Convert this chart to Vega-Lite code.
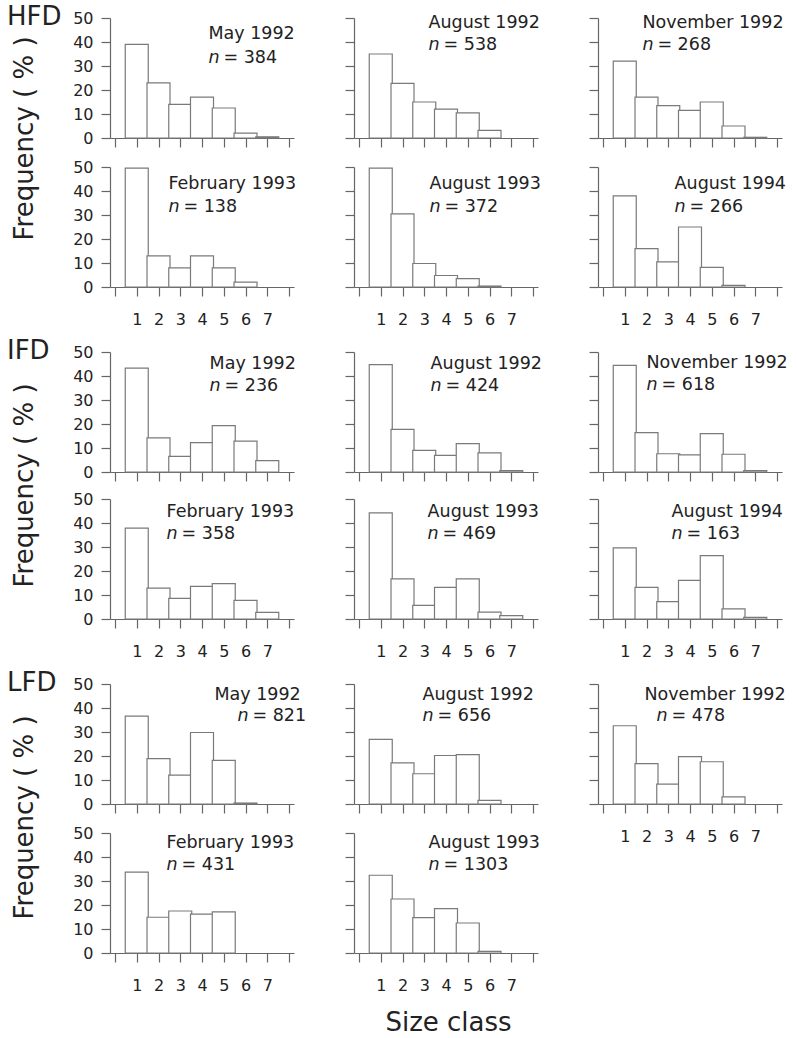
{
"$schema":"https://vega.github.io/schema/vega-lite/v6.json",
"background":"white",
"padding":{"left":7,"top":4,"right":5,"bottom":0},
"datasets":{
"freq":[
{"g":"HFD","p":"May 1992","c":1,"v":39},{"g":"HFD","p":"May 1992","c":2,"v":23},{"g":"HFD","p":"May 1992","c":3,"v":14},{"g":"HFD","p":"May 1992","c":4,"v":17},{"g":"HFD","p":"May 1992","c":5,"v":12.5},{"g":"HFD","p":"May 1992","c":6,"v":2},{"g":"HFD","p":"May 1992","c":7,"v":0.5},
{"g":"HFD","p":"August 1992","c":1,"v":35},{"g":"HFD","p":"August 1992","c":2,"v":22.8},{"g":"HFD","p":"August 1992","c":3,"v":15},{"g":"HFD","p":"August 1992","c":4,"v":12},{"g":"HFD","p":"August 1992","c":5,"v":10.5},{"g":"HFD","p":"August 1992","c":6,"v":3.2},
{"g":"HFD","p":"November 1992","c":1,"v":32},{"g":"HFD","p":"November 1992","c":2,"v":17},{"g":"HFD","p":"November 1992","c":3,"v":13.5},{"g":"HFD","p":"November 1992","c":4,"v":11.5},{"g":"HFD","p":"November 1992","c":5,"v":15},{"g":"HFD","p":"November 1992","c":6,"v":5},{"g":"HFD","p":"November 1992","c":7,"v":0.3},
{"g":"HFD","p":"February 1993","c":1,"v":49.5},{"g":"HFD","p":"February 1993","c":2,"v":13},{"g":"HFD","p":"February 1993","c":3,"v":8},{"g":"HFD","p":"February 1993","c":4,"v":13},{"g":"HFD","p":"February 1993","c":5,"v":8},{"g":"HFD","p":"February 1993","c":6,"v":2},
{"g":"HFD","p":"August 1993","c":1,"v":49.5},{"g":"HFD","p":"August 1993","c":2,"v":30.5},{"g":"HFD","p":"August 1993","c":3,"v":9.8},{"g":"HFD","p":"August 1993","c":4,"v":4.8},{"g":"HFD","p":"August 1993","c":5,"v":3.5},{"g":"HFD","p":"August 1993","c":6,"v":0.4},
{"g":"HFD","p":"August 1994","c":1,"v":38},{"g":"HFD","p":"August 1994","c":2,"v":16},{"g":"HFD","p":"August 1994","c":3,"v":10.5},{"g":"HFD","p":"August 1994","c":4,"v":25},{"g":"HFD","p":"August 1994","c":5,"v":8.2},{"g":"HFD","p":"August 1994","c":6,"v":0.7},
{"g":"IFD","p":"May 1992","c":1,"v":43.3},{"g":"IFD","p":"May 1992","c":2,"v":14.2},{"g":"IFD","p":"May 1992","c":3,"v":6.5},{"g":"IFD","p":"May 1992","c":4,"v":12.2},{"g":"IFD","p":"May 1992","c":5,"v":19.3},{"g":"IFD","p":"May 1992","c":6,"v":12.9},{"g":"IFD","p":"May 1992","c":7,"v":4.7},
{"g":"IFD","p":"August 1992","c":1,"v":44.7},{"g":"IFD","p":"August 1992","c":2,"v":17.8},{"g":"IFD","p":"August 1992","c":3,"v":9},{"g":"IFD","p":"August 1992","c":4,"v":6.9},{"g":"IFD","p":"August 1992","c":5,"v":11.8},{"g":"IFD","p":"August 1992","c":6,"v":8},{"g":"IFD","p":"August 1992","c":7,"v":0.6},
{"g":"IFD","p":"November 1992","c":1,"v":44.4},{"g":"IFD","p":"November 1992","c":2,"v":16.4},{"g":"IFD","p":"November 1992","c":3,"v":7.6},{"g":"IFD","p":"November 1992","c":4,"v":7.1},{"g":"IFD","p":"November 1992","c":5,"v":16},{"g":"IFD","p":"November 1992","c":6,"v":7.4},{"g":"IFD","p":"November 1992","c":7,"v":0.6},
{"g":"IFD","p":"February 1993","c":1,"v":37.9},{"g":"IFD","p":"February 1993","c":2,"v":12.9},{"g":"IFD","p":"February 1993","c":3,"v":8.6},{"g":"IFD","p":"February 1993","c":4,"v":13.6},{"g":"IFD","p":"February 1993","c":5,"v":14.7},{"g":"IFD","p":"February 1993","c":6,"v":7.8},{"g":"IFD","p":"February 1993","c":7,"v":2.8},
{"g":"IFD","p":"August 1993","c":1,"v":44.2},{"g":"IFD","p":"August 1993","c":2,"v":16.7},{"g":"IFD","p":"August 1993","c":3,"v":5.7},{"g":"IFD","p":"August 1993","c":4,"v":13.2},{"g":"IFD","p":"August 1993","c":5,"v":16.7},{"g":"IFD","p":"August 1993","c":6,"v":2.9},{"g":"IFD","p":"August 1993","c":7,"v":1.4},
{"g":"IFD","p":"August 1994","c":1,"v":29.6},{"g":"IFD","p":"August 1994","c":2,"v":13.2},{"g":"IFD","p":"August 1994","c":3,"v":7.2},{"g":"IFD","p":"August 1994","c":4,"v":16.1},{"g":"IFD","p":"August 1994","c":5,"v":26.4},{"g":"IFD","p":"August 1994","c":6,"v":4.2},{"g":"IFD","p":"August 1994","c":7,"v":0.7},
{"g":"LFD","p":"May 1992","c":1,"v":36.6},{"g":"LFD","p":"May 1992","c":2,"v":18.9},{"g":"LFD","p":"May 1992","c":3,"v":12},{"g":"LFD","p":"May 1992","c":4,"v":29.8},{"g":"LFD","p":"May 1992","c":5,"v":18.2},{"g":"LFD","p":"May 1992","c":6,"v":0.4},
{"g":"LFD","p":"August 1992","c":1,"v":26.9},{"g":"LFD","p":"August 1992","c":2,"v":17.1},{"g":"LFD","p":"August 1992","c":3,"v":12.6},{"g":"LFD","p":"August 1992","c":4,"v":20.2},{"g":"LFD","p":"August 1992","c":5,"v":20.6},{"g":"LFD","p":"August 1992","c":6,"v":1.5},
{"g":"LFD","p":"November 1992","c":1,"v":32.6},{"g":"LFD","p":"November 1992","c":2,"v":16.8},{"g":"LFD","p":"November 1992","c":3,"v":8.3},{"g":"LFD","p":"November 1992","c":4,"v":19.7},{"g":"LFD","p":"November 1992","c":5,"v":17.6},{"g":"LFD","p":"November 1992","c":6,"v":3},
{"g":"LFD","p":"February 1993","c":1,"v":33.7},{"g":"LFD","p":"February 1993","c":2,"v":14.9},{"g":"LFD","p":"February 1993","c":3,"v":17.5},{"g":"LFD","p":"February 1993","c":4,"v":16.2},{"g":"LFD","p":"February 1993","c":5,"v":17.1},
{"g":"LFD","p":"August 1993","c":1,"v":32.4},{"g":"LFD","p":"August 1993","c":2,"v":22.5},{"g":"LFD","p":"August 1993","c":3,"v":14.7},{"g":"LFD","p":"August 1993","c":4,"v":18.5},{"g":"LFD","p":"August 1993","c":5,"v":12.5},{"g":"LFD","p":"August 1993","c":6,"v":0.7}
],
"ann":[
{"g":"HFD","p":"May 1992","n":"= 384"},{"g":"HFD","p":"August 1992","n":"= 538"},{"g":"HFD","p":"November 1992","n":"= 268"},
{"g":"HFD","p":"February 1993","n":"= 138"},{"g":"HFD","p":"August 1993","n":"= 372"},{"g":"HFD","p":"August 1994","n":"= 266"},
{"g":"IFD","p":"May 1992","n":"= 236"},{"g":"IFD","p":"August 1992","n":"= 424"},{"g":"IFD","p":"November 1992","n":"= 618"},
{"g":"IFD","p":"February 1993","n":"= 358"},{"g":"IFD","p":"August 1993","n":"= 469"},{"g":"IFD","p":"August 1994","n":"= 163"},
{"g":"LFD","p":"May 1992","n":"= 821"},{"g":"LFD","p":"August 1992","n":"= 656"},{"g":"LFD","p":"November 1992","n":"= 478"},
{"g":"LFD","p":"February 1993","n":"= 431"},{"g":"LFD","p":"August 1993","n":"= 1303"}
]
},
"config":{
"font":"DejaVu Sans",
"view":{"stroke":null},
"axis":{"grid":false,"domainColor":"#666","tickColor":"#666","domainWidth":1.2,"tickWidth":1.2,"tickSize":9,"labelColor":"#222","labelFont":"DejaVu Sans","labelFontSize":16,"labelFlush":false,"labelOverlap":false,"titleFont":"DejaVu Sans","titleFontSize":26,"titleFontWeight":"normal","titleColor":"#222"},
"axisX":{"labelPadding":15},
"axisY":{"labelPadding":8},
"text":{"font":"DejaVu Sans","fontSize":17.5,"color":"#222","align":"left","baseline":"alphabetic"},
"bar":{"fill":"white","stroke":"#7a7a7a","strokeWidth":1.2}
},
"vconcat":[
{"columns":3,"bounds":"flush","spacing":{"row":29,"column":60},"concat":[
{"width":184,"height":120,"resolve":{"scale":{"x":"independent","y":"independent"}},"layer":[
{"data":{"name":"freq"},"transform":[{"filter":"datum.g=='HFD'&&datum.p=='May 1992'"}],"mark":{"type":"bar","orient":"vertical","width":23},
"encoding":{"x":{"field":"c","type":"quantitative","scale":{"domain":[0,8],"nice":false,"zero":false},"axis":{"values":[0,1,2,3,4,5,6,7,8],"title":null,"labels":false}},
"y":{"field":"v","type":"quantitative","scale":{"domain":[0,50],"nice":false},"axis":{"values":[0,10,20,30,40,50],"title":"Frequency ( % )","titleX":-78,"titleY":120,"titleAngle":270,"titleAlign":"center","titleBaseline":"alphabetic"}}}},
{"data":{"name":"ann"},"transform":[{"filter":"datum.g=='HFD'&&datum.p=='May 1992'"}],"layer":[
{"mark":{"type":"text"},"encoding":{"x":{"datum":4.28,"type":"quantitative","scale":{"domain":[0,8],"nice":false},"axis":null},"y":{"datum":41.25,"type":"quantitative","scale":{"domain":[0,50],"nice":false},"axis":null},"text":{"field":"p"}}},
{"mark":{"type":"text","fontStyle":"italic"},"encoding":{"x":{"datum":4.28,"type":"quantitative","axis":null},"y":{"datum":31.25,"type":"quantitative","axis":null},"text":{"value":"n"}}},
{"mark":{"type":"text","dx":15},"encoding":{"x":{"datum":4.28,"type":"quantitative","axis":null},"y":{"datum":31.25,"type":"quantitative","axis":null},"text":{"field":"n"}}},
{"mark":{"type":"text","fontSize":26,"dx":-103},"encoding":{"x":{"datum":0,"type":"quantitative","axis":null},"y":{"datum":47,"type":"quantitative","axis":null},"text":{"field":"g"}}}]}
]},
{"width":184,"height":120,"resolve":{"scale":{"x":"independent","y":"independent"}},"layer":[
{"data":{"name":"freq"},"transform":[{"filter":"datum.g=='HFD'&&datum.p=='August 1992'"}],"mark":{"type":"bar","orient":"vertical","width":23},
"encoding":{"x":{"field":"c","type":"quantitative","scale":{"domain":[0,8],"nice":false,"zero":false},"axis":{"values":[0,1,2,3,4,5,6,7,8],"title":null,"labels":false}},
"y":{"field":"v","type":"quantitative","scale":{"domain":[0,50],"nice":false},"axis":{"values":[0,10,20,30,40,50],"title":null,"labels":false}}}},
{"data":{"name":"ann"},"transform":[{"filter":"datum.g=='HFD'&&datum.p=='August 1992'"}],"layer":[
{"mark":{"type":"text"},"encoding":{"x":{"datum":3.24,"type":"quantitative","scale":{"domain":[0,8],"nice":false},"axis":null},"y":{"datum":45.8,"type":"quantitative","scale":{"domain":[0,50],"nice":false},"axis":null},"text":{"field":"p"}}},
{"mark":{"type":"text","fontStyle":"italic"},"encoding":{"x":{"datum":3.24,"type":"quantitative","axis":null},"y":{"datum":36.7,"type":"quantitative","axis":null},"text":{"value":"n"}}},
{"mark":{"type":"text","dx":15},"encoding":{"x":{"datum":3.24,"type":"quantitative","axis":null},"y":{"datum":36.7,"type":"quantitative","axis":null},"text":{"field":"n"}}}]}
]},
{"width":184,"height":120,"resolve":{"scale":{"x":"independent","y":"independent"}},"layer":[
{"data":{"name":"freq"},"transform":[{"filter":"datum.g=='HFD'&&datum.p=='November 1992'"}],"mark":{"type":"bar","orient":"vertical","width":23},
"encoding":{"x":{"field":"c","type":"quantitative","scale":{"domain":[0,8],"nice":false,"zero":false},"axis":{"values":[0,1,2,3,4,5,6,7,8],"title":null,"labels":false}},
"y":{"field":"v","type":"quantitative","scale":{"domain":[0,50],"nice":false},"axis":{"values":[0,10,20,30,40,50],"title":null,"labels":false}}}},
{"data":{"name":"ann"},"transform":[{"filter":"datum.g=='HFD'&&datum.p=='November 1992'"}],"layer":[
{"mark":{"type":"text"},"encoding":{"x":{"datum":1.93,"type":"quantitative","scale":{"domain":[0,8],"nice":false},"axis":null},"y":{"datum":45.8,"type":"quantitative","scale":{"domain":[0,50],"nice":false},"axis":null},"text":{"field":"p"}}},
{"mark":{"type":"text","fontStyle":"italic"},"encoding":{"x":{"datum":1.93,"type":"quantitative","axis":null},"y":{"datum":36.7,"type":"quantitative","axis":null},"text":{"value":"n"}}},
{"mark":{"type":"text","dx":15},"encoding":{"x":{"datum":1.93,"type":"quantitative","axis":null},"y":{"datum":36.7,"type":"quantitative","axis":null},"text":{"field":"n"}}}]}
]},
{"width":184,"height":120,"resolve":{"scale":{"x":"independent","y":"independent"}},"layer":[
{"data":{"name":"freq"},"transform":[{"filter":"datum.g=='HFD'&&datum.p=='February 1993'"}],"mark":{"type":"bar","orient":"vertical","width":23},
"encoding":{"x":{"field":"c","type":"quantitative","scale":{"domain":[0,8],"nice":false,"zero":false},"axis":{"values":[0,1,2,3,4,5,6,7,8],"title":null,"labelExpr":"datum.value>=1&&datum.value<=7?datum.label:''"}},
"y":{"field":"v","type":"quantitative","scale":{"domain":[0,50],"nice":false},"axis":{"values":[0,10,20,30,40,50],"title":null}}}},
{"data":{"name":"ann"},"transform":[{"filter":"datum.g=='HFD'&&datum.p=='February 1993'"}],"layer":[
{"mark":{"type":"text"},"encoding":{"x":{"datum":2.54,"type":"quantitative","scale":{"domain":[0,8],"nice":false},"axis":null},"y":{"datum":40.8,"type":"quantitative","scale":{"domain":[0,50],"nice":false},"axis":null},"text":{"field":"p"}}},
{"mark":{"type":"text","fontStyle":"italic"},"encoding":{"x":{"datum":2.54,"type":"quantitative","axis":null},"y":{"datum":31.25,"type":"quantitative","axis":null},"text":{"value":"n"}}},
{"mark":{"type":"text","dx":15},"encoding":{"x":{"datum":2.54,"type":"quantitative","axis":null},"y":{"datum":31.25,"type":"quantitative","axis":null},"text":{"field":"n"}}}]}
]},
{"width":184,"height":120,"resolve":{"scale":{"x":"independent","y":"independent"}},"layer":[
{"data":{"name":"freq"},"transform":[{"filter":"datum.g=='HFD'&&datum.p=='August 1993'"}],"mark":{"type":"bar","orient":"vertical","width":23},
"encoding":{"x":{"field":"c","type":"quantitative","scale":{"domain":[0,8],"nice":false,"zero":false},"axis":{"values":[0,1,2,3,4,5,6,7,8],"title":null,"labelExpr":"datum.value>=1&&datum.value<=7?datum.label:''"}},
"y":{"field":"v","type":"quantitative","scale":{"domain":[0,50],"nice":false},"axis":{"values":[0,10,20,30,40,50],"title":null,"labels":false}}}},
{"data":{"name":"ann"},"transform":[{"filter":"datum.g=='HFD'&&datum.p=='August 1993'"}],"layer":[
{"mark":{"type":"text"},"encoding":{"x":{"datum":3.28,"type":"quantitative","scale":{"domain":[0,8],"nice":false},"axis":null},"y":{"datum":41.0,"type":"quantitative","scale":{"domain":[0,50],"nice":false},"axis":null},"text":{"field":"p"}}},
{"mark":{"type":"text","fontStyle":"italic"},"encoding":{"x":{"datum":3.28,"type":"quantitative","axis":null},"y":{"datum":31.4,"type":"quantitative","axis":null},"text":{"value":"n"}}},
{"mark":{"type":"text","dx":15},"encoding":{"x":{"datum":3.28,"type":"quantitative","axis":null},"y":{"datum":31.4,"type":"quantitative","axis":null},"text":{"field":"n"}}}]}
]},
{"width":184,"height":120,"resolve":{"scale":{"x":"independent","y":"independent"}},"layer":[
{"data":{"name":"freq"},"transform":[{"filter":"datum.g=='HFD'&&datum.p=='August 1994'"}],"mark":{"type":"bar","orient":"vertical","width":23},
"encoding":{"x":{"field":"c","type":"quantitative","scale":{"domain":[0,8],"nice":false,"zero":false},"axis":{"values":[0,1,2,3,4,5,6,7,8],"title":null,"labelExpr":"datum.value>=1&&datum.value<=7?datum.label:''"}},
"y":{"field":"v","type":"quantitative","scale":{"domain":[0,50],"nice":false},"axis":{"values":[0,10,20,30,40,50],"title":null,"labels":false}}}},
{"data":{"name":"ann"},"transform":[{"filter":"datum.g=='HFD'&&datum.p=='August 1994'"}],"layer":[
{"mark":{"type":"text"},"encoding":{"x":{"datum":3.33,"type":"quantitative","scale":{"domain":[0,8],"nice":false},"axis":null},"y":{"datum":41.0,"type":"quantitative","scale":{"domain":[0,50],"nice":false},"axis":null},"text":{"field":"p"}}},
{"mark":{"type":"text","fontStyle":"italic"},"encoding":{"x":{"datum":3.33,"type":"quantitative","axis":null},"y":{"datum":31.4,"type":"quantitative","axis":null},"text":{"value":"n"}}},
{"mark":{"type":"text","dx":15},"encoding":{"x":{"datum":3.33,"type":"quantitative","axis":null},"y":{"datum":31.4,"type":"quantitative","axis":null},"text":{"field":"n"}}}]}
]}
]},
{"columns":3,"bounds":"flush","spacing":{"row":27,"column":60},"concat":[
{"width":184,"height":120,"resolve":{"scale":{"x":"independent","y":"independent"}},"layer":[
{"data":{"name":"freq"},"transform":[{"filter":"datum.g=='IFD'&&datum.p=='May 1992'"}],"mark":{"type":"bar","orient":"vertical","width":23},
"encoding":{"x":{"field":"c","type":"quantitative","scale":{"domain":[0,8],"nice":false,"zero":false},"axis":{"values":[0,1,2,3,4,5,6,7,8],"title":null,"labels":false}},
"y":{"field":"v","type":"quantitative","scale":{"domain":[0,50],"nice":false},"axis":{"values":[0,10,20,30,40,50],"title":"Frequency ( % )","titleX":-78,"titleY":133,"titleAngle":270,"titleAlign":"center","titleBaseline":"alphabetic"}}}},
{"data":{"name":"ann"},"transform":[{"filter":"datum.g=='IFD'&&datum.p=='May 1992'"}],"layer":[
{"mark":{"type":"text"},"encoding":{"x":{"datum":4.33,"type":"quantitative","scale":{"domain":[0,8],"nice":false},"axis":null},"y":{"datum":42.9,"type":"quantitative","scale":{"domain":[0,50],"nice":false},"axis":null},"text":{"field":"p"}}},
{"mark":{"type":"text","fontStyle":"italic"},"encoding":{"x":{"datum":4.33,"type":"quantitative","axis":null},"y":{"datum":33.75,"type":"quantitative","axis":null},"text":{"value":"n"}}},
{"mark":{"type":"text","dx":15},"encoding":{"x":{"datum":4.33,"type":"quantitative","axis":null},"y":{"datum":33.75,"type":"quantitative","axis":null},"text":{"field":"n"}}},
{"mark":{"type":"text","fontSize":26,"dx":-103},"encoding":{"x":{"datum":0,"type":"quantitative","axis":null},"y":{"datum":47,"type":"quantitative","axis":null},"text":{"field":"g"}}}]}
]},
{"width":184,"height":120,"resolve":{"scale":{"x":"independent","y":"independent"}},"layer":[
{"data":{"name":"freq"},"transform":[{"filter":"datum.g=='IFD'&&datum.p=='August 1992'"}],"mark":{"type":"bar","orient":"vertical","width":23},
"encoding":{"x":{"field":"c","type":"quantitative","scale":{"domain":[0,8],"nice":false,"zero":false},"axis":{"values":[0,1,2,3,4,5,6,7,8],"title":null,"labels":false}},
"y":{"field":"v","type":"quantitative","scale":{"domain":[0,50],"nice":false},"axis":{"values":[0,10,20,30,40,50],"title":null,"labels":false}}}},
{"data":{"name":"ann"},"transform":[{"filter":"datum.g=='IFD'&&datum.p=='August 1992'"}],"layer":[
{"mark":{"type":"text"},"encoding":{"x":{"datum":3.33,"type":"quantitative","scale":{"domain":[0,8],"nice":false},"axis":null},"y":{"datum":42.9,"type":"quantitative","scale":{"domain":[0,50],"nice":false},"axis":null},"text":{"field":"p"}}},
{"mark":{"type":"text","fontStyle":"italic"},"encoding":{"x":{"datum":3.33,"type":"quantitative","axis":null},"y":{"datum":33.75,"type":"quantitative","axis":null},"text":{"value":"n"}}},
{"mark":{"type":"text","dx":15},"encoding":{"x":{"datum":3.33,"type":"quantitative","axis":null},"y":{"datum":33.75,"type":"quantitative","axis":null},"text":{"field":"n"}}}]}
]},
{"width":184,"height":120,"resolve":{"scale":{"x":"independent","y":"independent"}},"layer":[
{"data":{"name":"freq"},"transform":[{"filter":"datum.g=='IFD'&&datum.p=='November 1992'"}],"mark":{"type":"bar","orient":"vertical","width":23},
"encoding":{"x":{"field":"c","type":"quantitative","scale":{"domain":[0,8],"nice":false,"zero":false},"axis":{"values":[0,1,2,3,4,5,6,7,8],"title":null,"labels":false}},
"y":{"field":"v","type":"quantitative","scale":{"domain":[0,50],"nice":false},"axis":{"values":[0,10,20,30,40,50],"title":null,"labels":false}}}},
{"data":{"name":"ann"},"transform":[{"filter":"datum.g=='IFD'&&datum.p=='November 1992'"}],"layer":[
{"mark":{"type":"text"},"encoding":{"x":{"datum":2.11,"type":"quantitative","scale":{"domain":[0,8],"nice":false},"axis":null},"y":{"datum":43.5,"type":"quantitative","scale":{"domain":[0,50],"nice":false},"axis":null},"text":{"field":"p"}}},
{"mark":{"type":"text","fontStyle":"italic"},"encoding":{"x":{"datum":2.11,"type":"quantitative","axis":null},"y":{"datum":34.2,"type":"quantitative","axis":null},"text":{"value":"n"}}},
{"mark":{"type":"text","dx":15},"encoding":{"x":{"datum":2.11,"type":"quantitative","axis":null},"y":{"datum":34.2,"type":"quantitative","axis":null},"text":{"field":"n"}}}]}
]},
{"width":184,"height":120,"resolve":{"scale":{"x":"independent","y":"independent"}},"layer":[
{"data":{"name":"freq"},"transform":[{"filter":"datum.g=='IFD'&&datum.p=='February 1993'"}],"mark":{"type":"bar","orient":"vertical","width":23},
"encoding":{"x":{"field":"c","type":"quantitative","scale":{"domain":[0,8],"nice":false,"zero":false},"axis":{"values":[0,1,2,3,4,5,6,7,8],"title":null,"labelExpr":"datum.value>=1&&datum.value<=7?datum.label:''"}},
"y":{"field":"v","type":"quantitative","scale":{"domain":[0,50],"nice":false},"axis":{"values":[0,10,20,30,40,50],"title":null}}}},
{"data":{"name":"ann"},"transform":[{"filter":"datum.g=='IFD'&&datum.p=='February 1993'"}],"layer":[
{"mark":{"type":"text"},"encoding":{"x":{"datum":2.46,"type":"quantitative","scale":{"domain":[0,8],"nice":false},"axis":null},"y":{"datum":42.7,"type":"quantitative","scale":{"domain":[0,50],"nice":false},"axis":null},"text":{"field":"p"}}},
{"mark":{"type":"text","fontStyle":"italic"},"encoding":{"x":{"datum":2.46,"type":"quantitative","axis":null},"y":{"datum":33.5,"type":"quantitative","axis":null},"text":{"value":"n"}}},
{"mark":{"type":"text","dx":15},"encoding":{"x":{"datum":2.46,"type":"quantitative","axis":null},"y":{"datum":33.5,"type":"quantitative","axis":null},"text":{"field":"n"}}}]}
]},
{"width":184,"height":120,"resolve":{"scale":{"x":"independent","y":"independent"}},"layer":[
{"data":{"name":"freq"},"transform":[{"filter":"datum.g=='IFD'&&datum.p=='August 1993'"}],"mark":{"type":"bar","orient":"vertical","width":23},
"encoding":{"x":{"field":"c","type":"quantitative","scale":{"domain":[0,8],"nice":false,"zero":false},"axis":{"values":[0,1,2,3,4,5,6,7,8],"title":null,"labelExpr":"datum.value>=1&&datum.value<=7?datum.label:''"}},
"y":{"field":"v","type":"quantitative","scale":{"domain":[0,50],"nice":false},"axis":{"values":[0,10,20,30,40,50],"title":null,"labels":false}}}},
{"data":{"name":"ann"},"transform":[{"filter":"datum.g=='IFD'&&datum.p=='August 1993'"}],"layer":[
{"mark":{"type":"text"},"encoding":{"x":{"datum":3.2,"type":"quantitative","scale":{"domain":[0,8],"nice":false},"axis":null},"y":{"datum":42.7,"type":"quantitative","scale":{"domain":[0,50],"nice":false},"axis":null},"text":{"field":"p"}}},
{"mark":{"type":"text","fontStyle":"italic"},"encoding":{"x":{"datum":3.2,"type":"quantitative","axis":null},"y":{"datum":33.5,"type":"quantitative","axis":null},"text":{"value":"n"}}},
{"mark":{"type":"text","dx":15},"encoding":{"x":{"datum":3.2,"type":"quantitative","axis":null},"y":{"datum":33.5,"type":"quantitative","axis":null},"text":{"field":"n"}}}]}
]},
{"width":184,"height":120,"resolve":{"scale":{"x":"independent","y":"independent"}},"layer":[
{"data":{"name":"freq"},"transform":[{"filter":"datum.g=='IFD'&&datum.p=='August 1994'"}],"mark":{"type":"bar","orient":"vertical","width":23},
"encoding":{"x":{"field":"c","type":"quantitative","scale":{"domain":[0,8],"nice":false,"zero":false},"axis":{"values":[0,1,2,3,4,5,6,7,8],"title":null,"labelExpr":"datum.value>=1&&datum.value<=7?datum.label:''"}},
"y":{"field":"v","type":"quantitative","scale":{"domain":[0,50],"nice":false},"axis":{"values":[0,10,20,30,40,50],"title":null,"labels":false}}}},
{"data":{"name":"ann"},"transform":[{"filter":"datum.g=='IFD'&&datum.p=='August 1994'"}],"layer":[
{"mark":{"type":"text"},"encoding":{"x":{"datum":3.2,"type":"quantitative","scale":{"domain":[0,8],"nice":false},"axis":null},"y":{"datum":42.7,"type":"quantitative","scale":{"domain":[0,50],"nice":false},"axis":null},"text":{"field":"p"}}},
{"mark":{"type":"text","fontStyle":"italic"},"encoding":{"x":{"datum":3.2,"type":"quantitative","axis":null},"y":{"datum":33.5,"type":"quantitative","axis":null},"text":{"value":"n"}}},
{"mark":{"type":"text","dx":15},"encoding":{"x":{"datum":3.2,"type":"quantitative","axis":null},"y":{"datum":33.5,"type":"quantitative","axis":null},"text":{"field":"n"}}}]}
]}
]},
{"columns":3,"bounds":"flush","spacing":{"row":29,"column":60},"concat":[
{"width":184,"height":120,"resolve":{"scale":{"x":"independent","y":"independent"}},"layer":[
{"data":{"name":"freq"},"transform":[{"filter":"datum.g=='LFD'&&datum.p=='May 1992'"}],"mark":{"type":"bar","orient":"vertical","width":23},
"encoding":{"x":{"field":"c","type":"quantitative","scale":{"domain":[0,8],"nice":false,"zero":false},"axis":{"values":[0,1,2,3,4,5,6,7,8],"title":null,"labels":false}},
"y":{"field":"v","type":"quantitative","scale":{"domain":[0,50],"nice":false},"axis":{"values":[0,10,20,30,40,50],"title":"Frequency ( % )","titleX":-78,"titleY":133,"titleAngle":270,"titleAlign":"center","titleBaseline":"alphabetic"}}}},
{"data":{"name":"ann"},"transform":[{"filter":"datum.g=='LFD'&&datum.p=='May 1992'"}],"layer":[
{"mark":{"type":"text"},"encoding":{"x":{"datum":4.54,"type":"quantitative","scale":{"domain":[0,8],"nice":false},"axis":null},"y":{"datum":43.5,"type":"quantitative","scale":{"domain":[0,50],"nice":false},"axis":null},"text":{"field":"p"}}},
{"mark":{"type":"text","fontStyle":"italic"},"encoding":{"x":{"datum":5.54,"type":"quantitative","axis":null},"y":{"datum":34.4,"type":"quantitative","axis":null},"text":{"value":"n"}}},
{"mark":{"type":"text","dx":15},"encoding":{"x":{"datum":5.54,"type":"quantitative","axis":null},"y":{"datum":34.4,"type":"quantitative","axis":null},"text":{"field":"n"}}},
{"mark":{"type":"text","fontSize":26,"dx":-103},"encoding":{"x":{"datum":0,"type":"quantitative","axis":null},"y":{"datum":47,"type":"quantitative","axis":null},"text":{"field":"g"}}}]}
]},
{"width":184,"height":120,"resolve":{"scale":{"x":"independent","y":"independent"}},"layer":[
{"data":{"name":"freq"},"transform":[{"filter":"datum.g=='LFD'&&datum.p=='August 1992'"}],"mark":{"type":"bar","orient":"vertical","width":23},
"encoding":{"x":{"field":"c","type":"quantitative","scale":{"domain":[0,8],"nice":false,"zero":false},"axis":{"values":[0,1,2,3,4,5,6,7,8],"title":null,"labels":false}},
"y":{"field":"v","type":"quantitative","scale":{"domain":[0,50],"nice":false},"axis":{"values":[0,10,20,30,40,50],"title":null,"labels":false}}}},
{"data":{"name":"ann"},"transform":[{"filter":"datum.g=='LFD'&&datum.p=='August 1992'"}],"layer":[
{"mark":{"type":"text"},"encoding":{"x":{"datum":2.98,"type":"quantitative","scale":{"domain":[0,8],"nice":false},"axis":null},"y":{"datum":43.5,"type":"quantitative","scale":{"domain":[0,50],"nice":false},"axis":null},"text":{"field":"p"}}},
{"mark":{"type":"text","fontStyle":"italic"},"encoding":{"x":{"datum":2.98,"type":"quantitative","axis":null},"y":{"datum":34.4,"type":"quantitative","axis":null},"text":{"value":"n"}}},
{"mark":{"type":"text","dx":15},"encoding":{"x":{"datum":2.98,"type":"quantitative","axis":null},"y":{"datum":34.4,"type":"quantitative","axis":null},"text":{"field":"n"}}}]}
]},
{"width":184,"height":120,"resolve":{"scale":{"x":"independent","y":"independent"}},"layer":[
{"data":{"name":"freq"},"transform":[{"filter":"datum.g=='LFD'&&datum.p=='November 1992'"}],"mark":{"type":"bar","orient":"vertical","width":23},
"encoding":{"x":{"field":"c","type":"quantitative","scale":{"domain":[0,8],"nice":false,"zero":false},"axis":{"values":[0,1,2,3,4,5,6,7,8],"title":null,"labelExpr":"datum.value>=1&&datum.value<=7?datum.label:''"}},
"y":{"field":"v","type":"quantitative","scale":{"domain":[0,50],"nice":false},"axis":{"values":[0,10,20,30,40,50],"title":null,"labels":false}}}},
{"data":{"name":"ann"},"transform":[{"filter":"datum.g=='LFD'&&datum.p=='November 1992'"}],"layer":[
{"mark":{"type":"text"},"encoding":{"x":{"datum":2.02,"type":"quantitative","scale":{"domain":[0,8],"nice":false},"axis":null},"y":{"datum":43.5,"type":"quantitative","scale":{"domain":[0,50],"nice":false},"axis":null},"text":{"field":"p"}}},
{"mark":{"type":"text","fontStyle":"italic"},"encoding":{"x":{"datum":2.54,"type":"quantitative","axis":null},"y":{"datum":34.4,"type":"quantitative","axis":null},"text":{"value":"n"}}},
{"mark":{"type":"text","dx":15},"encoding":{"x":{"datum":2.54,"type":"quantitative","axis":null},"y":{"datum":34.4,"type":"quantitative","axis":null},"text":{"field":"n"}}}]}
]},
{"width":184,"height":120,"resolve":{"scale":{"x":"independent","y":"independent"}},"layer":[
{"data":{"name":"freq"},"transform":[{"filter":"datum.g=='LFD'&&datum.p=='February 1993'"}],"mark":{"type":"bar","orient":"vertical","width":23},
"encoding":{"x":{"field":"c","type":"quantitative","scale":{"domain":[0,8],"nice":false,"zero":false},"axis":{"values":[0,1,2,3,4,5,6,7,8],"title":null,"labelExpr":"datum.value>=1&&datum.value<=7?datum.label:''"}},
"y":{"field":"v","type":"quantitative","scale":{"domain":[0,50],"nice":false},"axis":{"values":[0,10,20,30,40,50],"title":null}}}},
{"data":{"name":"ann"},"transform":[{"filter":"datum.g=='LFD'&&datum.p=='February 1993'"}],"layer":[
{"mark":{"type":"text"},"encoding":{"x":{"datum":2.46,"type":"quantitative","scale":{"domain":[0,8],"nice":false},"axis":null},"y":{"datum":43.7,"type":"quantitative","scale":{"domain":[0,50],"nice":false},"axis":null},"text":{"field":"p"}}},
{"mark":{"type":"text","fontStyle":"italic"},"encoding":{"x":{"datum":2.46,"type":"quantitative","axis":null},"y":{"datum":34.6,"type":"quantitative","axis":null},"text":{"value":"n"}}},
{"mark":{"type":"text","dx":15},"encoding":{"x":{"datum":2.46,"type":"quantitative","axis":null},"y":{"datum":34.6,"type":"quantitative","axis":null},"text":{"field":"n"}}}]}
]},
{"width":184,"height":120,"resolve":{"scale":{"x":"independent","y":"independent"}},"layer":[
{"data":{"name":"freq"},"transform":[{"filter":"datum.g=='LFD'&&datum.p=='August 1993'"}],"mark":{"type":"bar","orient":"vertical","width":23},
"encoding":{"x":{"field":"c","type":"quantitative","scale":{"domain":[0,8],"nice":false,"zero":false},"axis":{"values":[0,1,2,3,4,5,6,7,8],"title":"Size class","titleX":94,"titleY":77,"titleAlign":"center","titleBaseline":"alphabetic","labelExpr":"datum.value>=1&&datum.value<=7?datum.label:''"}},
"y":{"field":"v","type":"quantitative","scale":{"domain":[0,50],"nice":false},"axis":{"values":[0,10,20,30,40,50],"title":null,"labels":false}}}},
{"data":{"name":"ann"},"transform":[{"filter":"datum.g=='LFD'&&datum.p=='August 1993'"}],"layer":[
{"mark":{"type":"text"},"encoding":{"x":{"datum":3.24,"type":"quantitative","scale":{"domain":[0,8],"nice":false},"axis":null},"y":{"datum":43.7,"type":"quantitative","scale":{"domain":[0,50],"nice":false},"axis":null},"text":{"field":"p"}}},
{"mark":{"type":"text","fontStyle":"italic"},"encoding":{"x":{"datum":3.24,"type":"quantitative","axis":null},"y":{"datum":34.6,"type":"quantitative","axis":null},"text":{"value":"n"}}},
{"mark":{"type":"text","dx":15},"encoding":{"x":{"datum":3.24,"type":"quantitative","axis":null},"y":{"datum":34.6,"type":"quantitative","axis":null},"text":{"field":"n"}}}]}
]}
]}
],
"spacing":11
}
